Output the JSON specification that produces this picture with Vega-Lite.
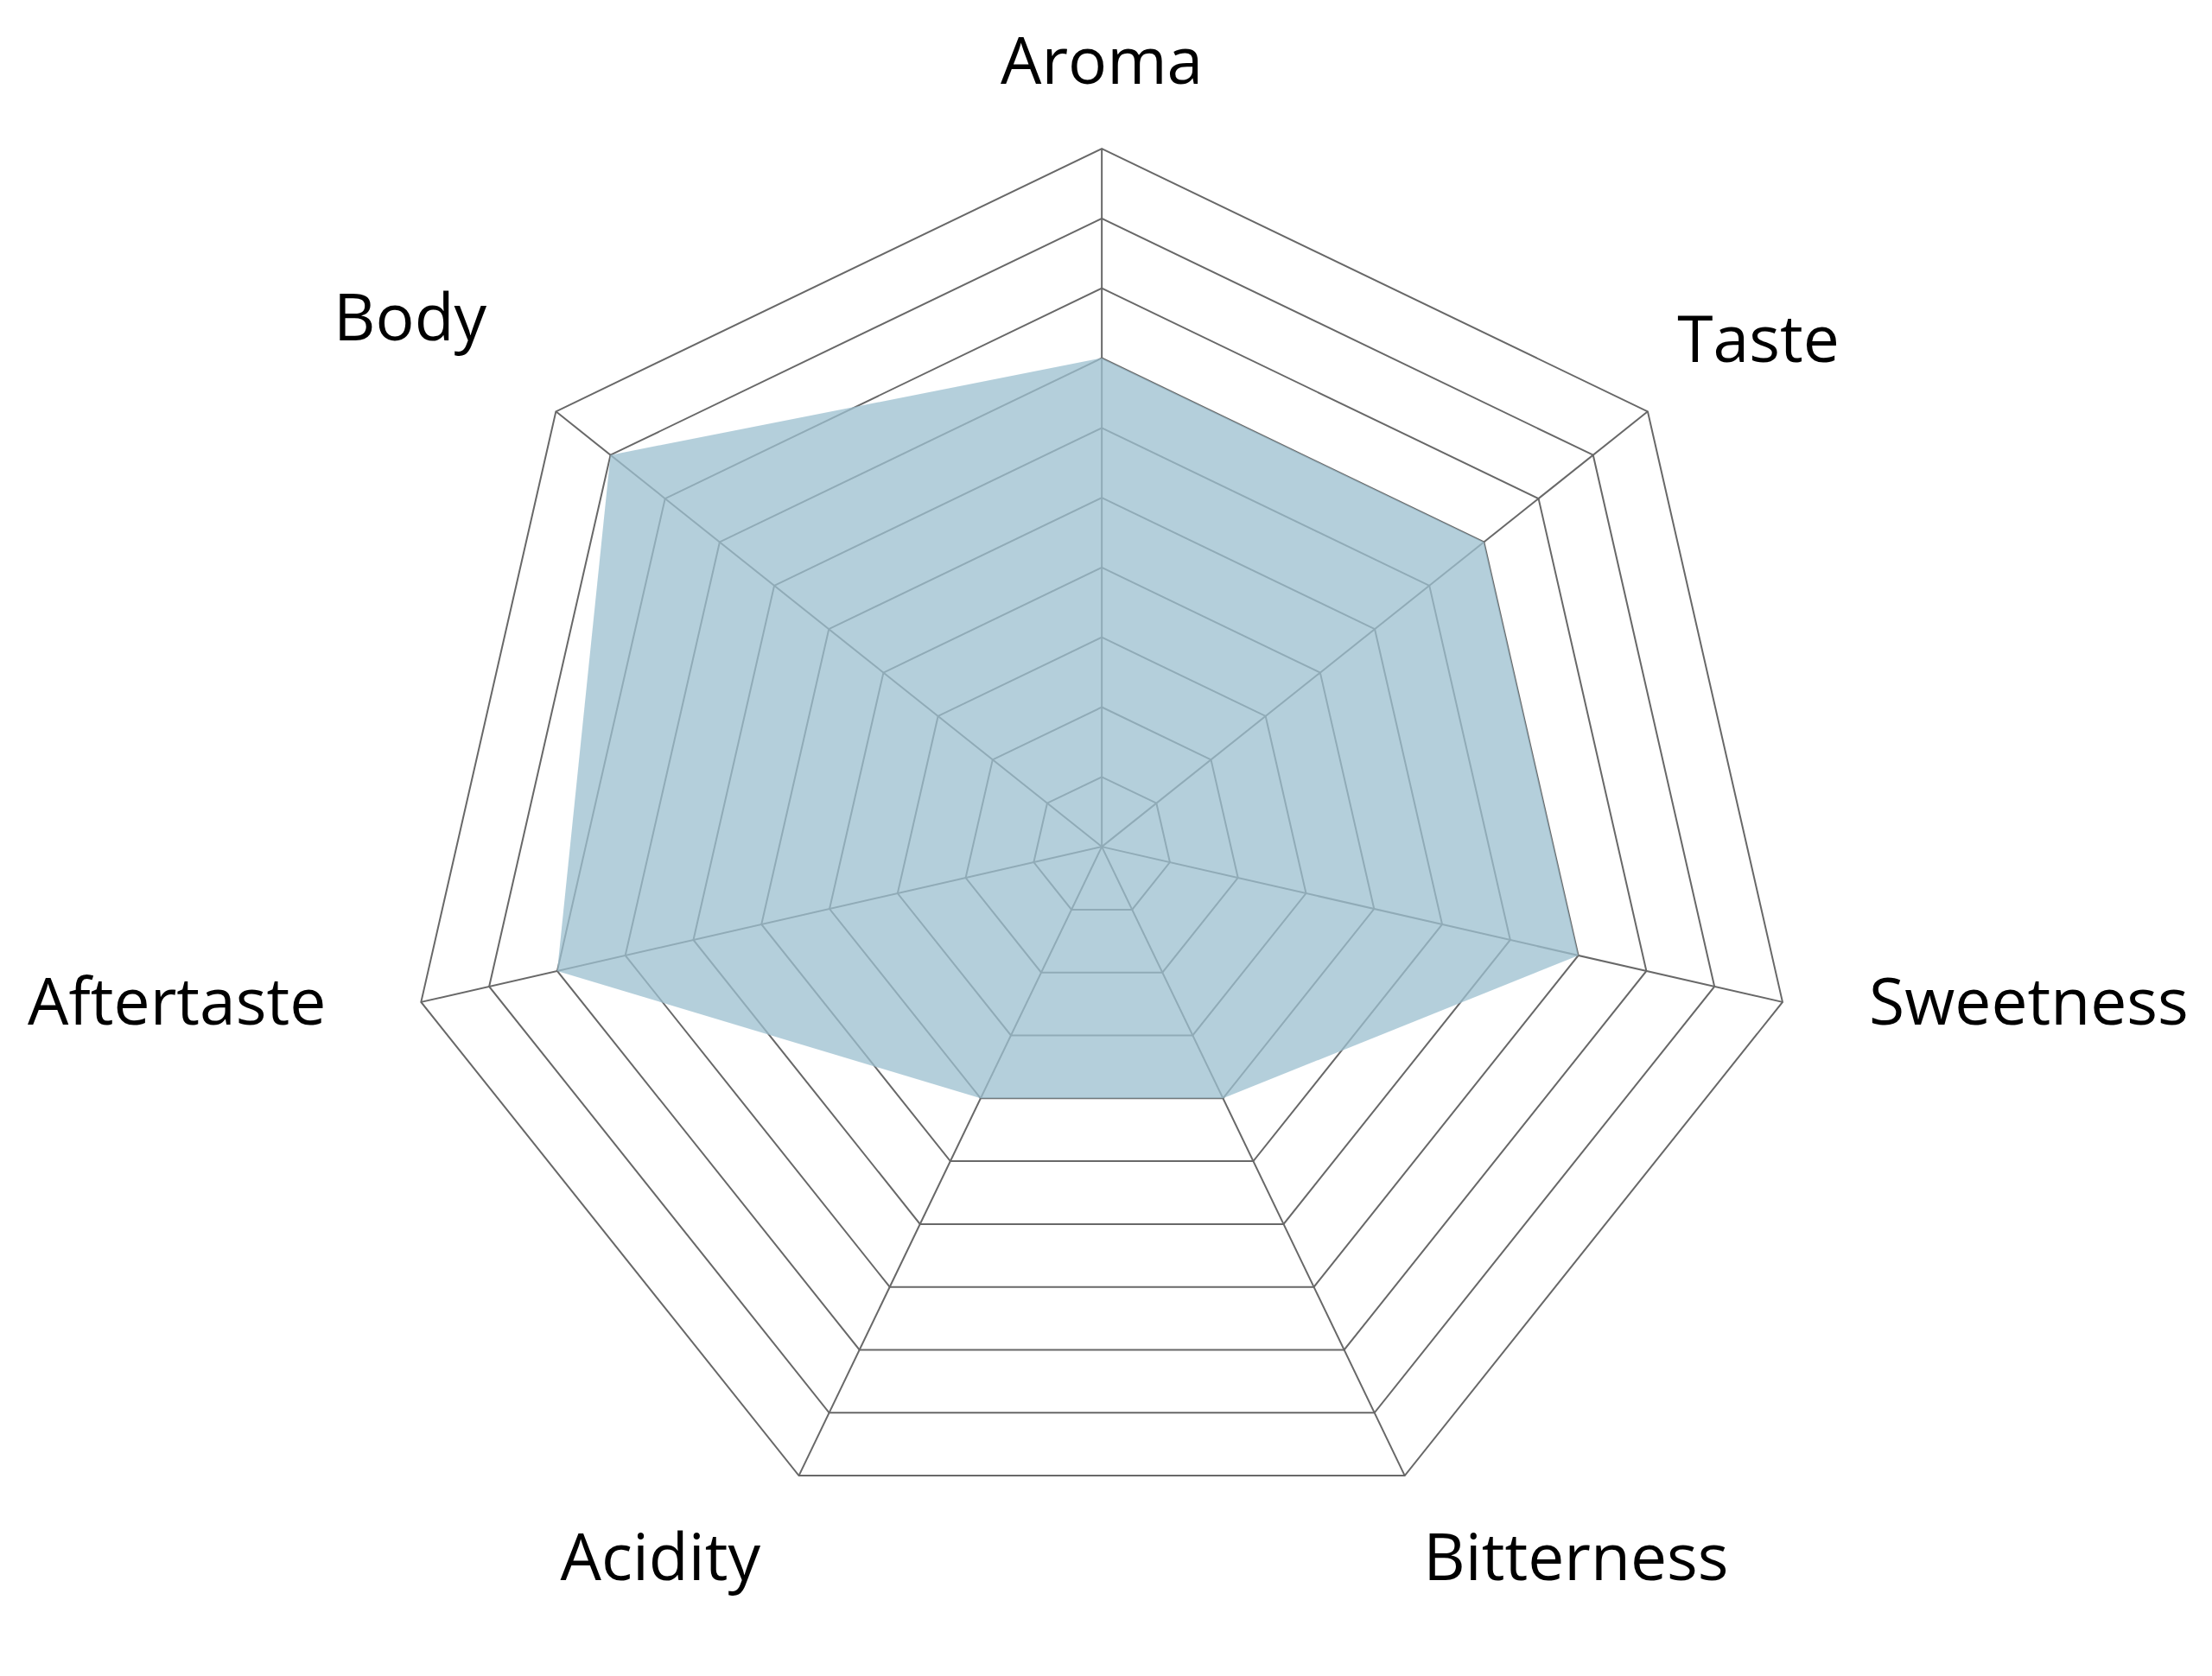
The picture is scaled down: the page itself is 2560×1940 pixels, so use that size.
{
  "$schema": "https://vega.github.io/schema/vega-lite/v6.json",
  "description": "Coffee tasting radar chart: seven attributes scored 0-10.",
  "width": 2560,
  "height": 1940,
  "autosize": {"type": "none"},
  "padding": 0,
  "background": "#ffffff",
  "config": {
    "view": {"stroke": null},
    "text": {"font": "Open Sans", "fontSize": 75, "color": "#000000", "baseline": "middle"}
  },
  "datasets": {
    "scores": [
      {"attribute": "Aroma", "value": 7},
      {"attribute": "Taste", "value": 7},
      {"attribute": "Sweetness", "value": 7},
      {"attribute": "Bitterness", "value": 4},
      {"attribute": "Acidity", "value": 4},
      {"attribute": "Aftertaste", "value": 8},
      {"attribute": "Body", "value": 9}
    ],
    "grid": [
      {"attribute": "Aroma", "level": [1, 2, 3, 4, 5, 6, 7, 8, 9, 10]},
      {"attribute": "Taste", "level": [1, 2, 3, 4, 5, 6, 7, 8, 9, 10]},
      {"attribute": "Sweetness", "level": [1, 2, 3, 4, 5, 6, 7, 8, 9, 10]},
      {"attribute": "Bitterness", "level": [1, 2, 3, 4, 5, 6, 7, 8, 9, 10]},
      {"attribute": "Acidity", "level": [1, 2, 3, 4, 5, 6, 7, 8, 9, 10]},
      {"attribute": "Aftertaste", "level": [1, 2, 3, 4, 5, 6, 7, 8, 9, 10]},
      {"attribute": "Body", "level": [1, 2, 3, 4, 5, 6, 7, 8, 9, 10]}
    ]
  },
  "layer": [
    {
      "data": {"name": "grid"},
      "transform": [
        {"window": [{"op": "row_number", "as": "rn"}]},
        {"calculate": "(datum.rn - 1) * 2 * PI / 7", "as": "angle"},
        {"flatten": ["level"]},
        {"calculate": "datum.level * sin(datum.angle)", "as": "gx"},
        {"calculate": "datum.level * cos(datum.angle)", "as": "gy"}
      ],
      "mark": {"type": "line", "interpolate": "linear-closed", "stroke": "#686868", "strokeWidth": 2},
      "encoding": {
        "x": {"field": "gx", "type": "quantitative", "scale": {"domain": [-15.78, 15.9], "nice": false, "zero": false}, "axis": null},
        "y": {"field": "gy", "type": "quantitative", "scale": {"domain": [-11.88, 12.13], "nice": false, "zero": false}, "axis": null},
        "detail": {"field": "level", "type": "nominal"},
        "order": {"field": "rn", "type": "quantitative"}
      }
    },
    {
      "data": {"name": "grid"},
      "transform": [
        {"window": [{"op": "row_number", "as": "rn"}]},
        {"calculate": "(datum.rn - 1) * 2 * PI / 7", "as": "angle"},
        {"flatten": ["level"]},
        {"filter": "datum.level == 10"},
        {"calculate": "datum.level * sin(datum.angle)", "as": "gx"},
        {"calculate": "datum.level * cos(datum.angle)", "as": "gy"}
      ],
      "mark": {"type": "rule", "stroke": "#686868", "strokeWidth": 2},
      "encoding": {
        "x": {"field": "gx", "type": "quantitative"},
        "y": {"field": "gy", "type": "quantitative"},
        "x2": {"datum": 0},
        "y2": {"datum": 0}
      }
    },
    {
      "data": {"name": "scores"},
      "transform": [
        {"window": [{"op": "row_number", "as": "rn"}]},
        {"calculate": "(datum.rn - 1) * 2 * PI / 7", "as": "angle"},
        {"calculate": "datum.value * sin(datum.angle)", "as": "px"},
        {"calculate": "datum.value * cos(datum.angle)", "as": "py"}
      ],
      "mark": {"type": "line", "interpolate": "linear-closed", "fill": "#9cc0d0", "fillOpacity": 0.76, "strokeWidth": 0, "stroke": null},
      "encoding": {
        "x": {"field": "px", "type": "quantitative"},
        "y": {"field": "py", "type": "quantitative"},
        "order": {"field": "rn", "type": "quantitative"}
      }
    },
    {
      "data": {"name": "scores"},
      "transform": [
        {"window": [{"op": "row_number", "as": "rn"}]},
        {"calculate": "(datum.rn - 1) * 2 * PI / 7", "as": "angle"},
        {"calculate": "11.27 * sin(datum.angle)", "as": "lx"},
        {"calculate": "11.27 * cos(datum.angle)", "as": "ly"},
        {"calculate": "abs(datum.lx) < 0.5 ? 'center' : datum.lx > 0 ? 'right' : 'left'", "as": "side"},
        {"calculate": "datum.ly > 10 ? 'top' : datum.ly > 3 ? 'upper' : datum.ly > -5 ? 'middle' : 'lower'", "as": "tier"}
      ],
      "layer": [
        {
          "transform": [{"filter": "datum.side == 'center'"}],
          "mark": {"type": "text", "align": "center", "dy": 5}
        },
        {
          "transform": [{"filter": "datum.side == 'right' && datum.tier == 'upper'"}],
          "mark": {"type": "text", "align": "left", "dx": -46, "dy": -16}
        },
        {
          "transform": [{"filter": "datum.side == 'right' && datum.tier == 'middle'"}],
          "mark": {"type": "text", "align": "left", "dy": -20}
        },
        {
          "transform": [{"filter": "datum.side == 'right' && datum.tier == 'lower'"}],
          "mark": {"type": "text", "align": "left", "dx": -23, "dy": 5}
        },
        {
          "transform": [{"filter": "datum.side == 'left' && datum.tier == 'upper'"}],
          "mark": {"type": "text", "align": "right", "dy": -41}
        },
        {
          "transform": [{"filter": "datum.side == 'left' && datum.tier == 'middle'"}],
          "mark": {"type": "text", "align": "right", "dx": -10, "dy": -20}
        },
        {
          "transform": [{"filter": "datum.side == 'left' && datum.tier == 'lower'"}],
          "mark": {"type": "text", "align": "right", "dy": 5}
        }
      ],
      "encoding": {
        "x": {"field": "lx", "type": "quantitative"},
        "y": {"field": "ly", "type": "quantitative"},
        "text": {"field": "attribute", "type": "nominal"}
      }
    }
  ]
}
